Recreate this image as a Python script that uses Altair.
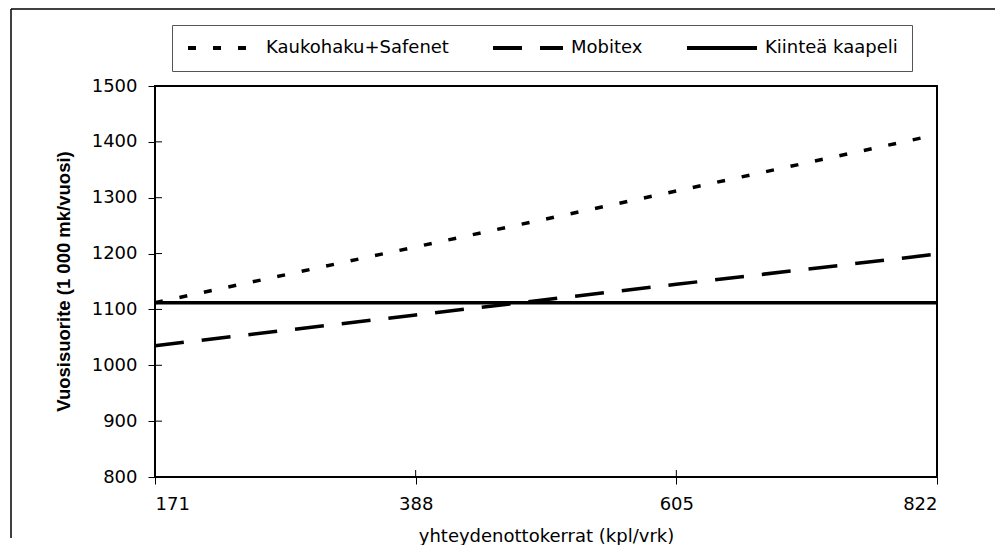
import altair as alt
import pandas as pd

# ---- data ----
x_values = [171, 388, 605, 822]
series_names = ["Kaukohaku+Safenet", "Mobitex", "Kiinteä kaapeli"]
kaukohaku = [1112, 1212, 1312, 1413]
mobitex = [1035, 1090, 1145, 1199]
kiintea = [1112, 1112, 1112, 1112]
y_ticks = [800, 900, 1000, 1100, 1200, 1300, 1400, 1500]

rows = []
for name, vals in zip(series_names, [kaukohaku, mobitex, kiintea]):
    for xv, yv in zip(x_values, vals):
        rows.append({"x": xv, "y": yv, "series": name})
df = pd.DataFrame(rows)

W, H = 782, 391
FONT = "DejaVu Sans"

xscale = alt.Scale(domain=[171, 822], nice=False, zero=False)
yscale = alt.Scale(domain=[800, 1500], nice=False, zero=False)

lines = alt.Chart(df).mark_line(color="black", strokeWidth=3.5).encode(
    x=alt.X("x:Q", scale=xscale,
            axis=alt.Axis(values=x_values, title="yhteydenottokerrat (kpl/vrk)",
                          format="d", tickSize=7, labelPadding=11,
                          titleFont=FONT, titleFontWeight="normal", titleFontSize=18,
                          titleY=59, titleBaseline="middle")),
    y=alt.Y("y:Q", scale=yscale,
            axis=alt.Axis(values=y_ticks, title="Vuosisuorite (1 000 mk/vuosi)",
                          format="d", tickSize=7, labelPadding=11,
                          titleFont="Liberation Sans", titleFontWeight="bold",
                          titleFontSize=18.5, titleX=-92, titleY=195,
                          titleAlign="center", titleBaseline="middle")),
    strokeDash=alt.StrokeDash(
        "series:N",
        scale=alt.Scale(domain=series_names, range=[[8, 17], [29, 18], [1, 0]]),
        legend=alt.Legend(orient="none", legendX=17, legendY=-61,
                          direction="horizontal", columns=3, title=None,
                          symbolType="stroke", symbolSize=70 * 70,
                          symbolStrokeWidth=4, symbolStrokeColor="black",
                          clipHeight=18, padding=14, labelOffset=6,
                          columnPadding=42, strokeColor="#555555",
                          labelLimit=400,
                          labelFont=FONT, labelFontSize=18, labelColor="black"),
    ),
    order="x:Q",
)

# inner halves of the crossing tick marks
ytick_df = pd.DataFrame({"y": y_ticks})
xtick_df = pd.DataFrame({"x": x_values})
ytick_in = alt.Chart(ytick_df).mark_rule(color="black", strokeWidth=1).encode(
    y=alt.Y("y:Q", scale=yscale), x=alt.value(0), x2=alt.value(7))
xtick_in = alt.Chart(xtick_df).mark_rule(color="black", strokeWidth=1).encode(
    x=alt.X("x:Q", scale=xscale), y=alt.value(H - 7), y2=alt.value(H))

# outer chart-area frame (left and top edges)
one = pd.DataFrame({"a": [0]})
frame_left = alt.Chart(one).mark_rule(color="black", strokeWidth=1.5).encode(
    x=alt.value(-144), y=alt.value(-77), y2=alt.value(452))
frame_top = alt.Chart(one).mark_rule(color="black", strokeWidth=1.5).encode(
    x=alt.value(-144), x2=alt.value(840), y=alt.value(-77))

chart = alt.layer(lines, ytick_in, xtick_in, frame_left, frame_top).properties(
    width=W, height=H,
    padding={"left": 2, "top": 0, "right": 0, "bottom": 0},
    background="white",
).configure_view(
    stroke="black", strokeWidth=2
).configure_axis(
    grid=False, domain=False, labelFont=FONT, labelFontSize=18,
    labelColor="black", tickColor="black", tickWidth=1, titleColor="black",
).configure_legend(
    labelFont=FONT,
)

chart.save("out.html", embed_options={"renderer": "svg", "actions": False})
